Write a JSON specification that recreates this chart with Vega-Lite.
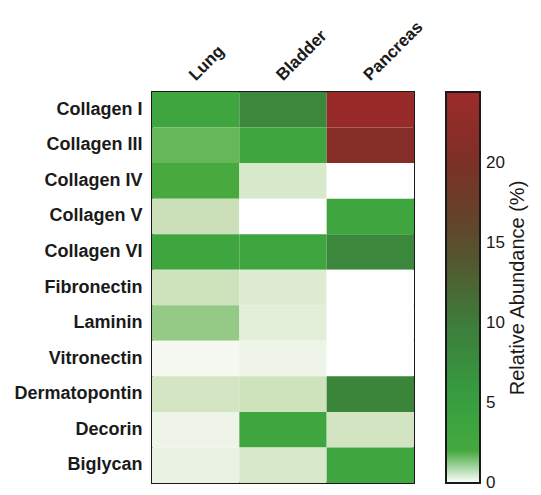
{
  "$schema": "https://vega.github.io/schema/vega-lite/v6.json",
  "autosize": {"type": "none"},
  "padding": {"left": 152, "top": 92, "right": 127, "bottom": 12},
  "width": 262,
  "height": 391,
  "background": "white",
  "config": {
    "font": "Liberation Sans",
    "view": {"stroke": "#1a1a1a", "strokeWidth": 2}
  },
  "data": {
    "values": [
      {"protein": "Collagen I", "tissue": "Lung", "value": 3.2},
      {"protein": "Collagen I", "tissue": "Bladder", "value": 8.5},
      {"protein": "Collagen I", "tissue": "Pancreas", "value": 23.6},
      {"protein": "Collagen III", "tissue": "Lung", "value": 1.25},
      {"protein": "Collagen III", "tissue": "Bladder", "value": 3.2},
      {"protein": "Collagen III", "tissue": "Pancreas", "value": 21.2},
      {"protein": "Collagen IV", "tissue": "Lung", "value": 1.5},
      {"protein": "Collagen IV", "tissue": "Bladder", "value": 0.3},
      {"protein": "Collagen IV", "tissue": "Pancreas", "value": 0},
      {"protein": "Collagen V", "tissue": "Lung", "value": 0.4},
      {"protein": "Collagen V", "tissue": "Bladder", "value": 0},
      {"protein": "Collagen V", "tissue": "Pancreas", "value": 3.2},
      {"protein": "Collagen VI", "tissue": "Lung", "value": 3.2},
      {"protein": "Collagen VI", "tissue": "Bladder", "value": 3.2},
      {"protein": "Collagen VI", "tissue": "Pancreas", "value": 8.3},
      {"protein": "Fibronectin", "tissue": "Lung", "value": 0.38},
      {"protein": "Fibronectin", "tissue": "Bladder", "value": 0.25},
      {"protein": "Fibronectin", "tissue": "Pancreas", "value": 0},
      {"protein": "Laminin", "tissue": "Lung", "value": 0.85},
      {"protein": "Laminin", "tissue": "Bladder", "value": 0.22},
      {"protein": "Laminin", "tissue": "Pancreas", "value": 0},
      {"protein": "Vitronectin", "tissue": "Lung", "value": 0.08},
      {"protein": "Vitronectin", "tissue": "Bladder", "value": 0.13},
      {"protein": "Vitronectin", "tissue": "Pancreas", "value": 0},
      {"protein": "Dermatopontin", "tissue": "Lung", "value": 0.34},
      {"protein": "Dermatopontin", "tissue": "Bladder", "value": 0.38},
      {"protein": "Dermatopontin", "tissue": "Pancreas", "value": 8.8},
      {"protein": "Decorin", "tissue": "Lung", "value": 0.13},
      {"protein": "Decorin", "tissue": "Bladder", "value": 3.2},
      {"protein": "Decorin", "tissue": "Pancreas", "value": 0.35},
      {"protein": "Biglycan", "tissue": "Lung", "value": 0.16},
      {"protein": "Biglycan", "tissue": "Bladder", "value": 0.3},
      {"protein": "Biglycan", "tissue": "Pancreas", "value": 3.2}
    ]
  },
  "mark": {"type": "rect"},
  "encoding": {
    "x": {
      "field": "tissue",
      "type": "nominal",
      "sort": ["Lung", "Bladder", "Pancreas"],
      "axis": {
        "orient": "top",
        "title": null,
        "domain": false,
        "ticks": false,
        "labelAngle": -45,
        "labelAlign": "left",
        "labelBaseline": "alphabetic",
        "labelPadding": 11,
        "labelFontSize": 17,
        "labelFontWeight": "bold",
        "labelColor": "#1a1a1a"
      }
    },
    "y": {
      "field": "protein",
      "type": "nominal",
      "sort": ["Collagen I", "Collagen III", "Collagen IV", "Collagen V", "Collagen VI", "Fibronectin", "Laminin", "Vitronectin", "Dermatopontin", "Decorin", "Biglycan"],
      "axis": {
        "title": null,
        "domain": false,
        "ticks": false,
        "labelPadding": 10,
        "labelFontSize": 18,
        "labelFontWeight": "bold",
        "labelColor": "#1a1a1a"
      }
    },
    "color": {
      "field": "value",
      "type": "quantitative",
      "scale": {
        "domain": [0, 0.4, 1.5, 5, 10, 15, 20, 24.4],
        "range": ["#ffffff", "#cbe0b8", "#48aa3e", "#36a040", "#3d7c3a", "#5a4c2c", "#7c3026", "#9e2a2a"],
        "interpolate": "rgb",
        "nice": false
      },
      "legend": {
        "title": "Relative Abundance (%)",
        "orient": "right",
        "offset": 32,
        "direction": "vertical",
        "gradientLength": 391,
        "gradientThickness": 34,
        "gradientStrokeColor": "#1a1a1a",
        "gradientStrokeWidth": 2,
        "values": [0, 5, 10, 15, 20],
        "labelFontSize": 17,
        "labelColor": "#1a1a1a",
        "labelOffset": 6,
        "titleOrient": "right",
        "titleAnchor": "middle",
        "titleLimit": 500,
        "titleFontSize": 20,
        "titleFontWeight": "normal",
        "titleColor": "#1a1a1a",
        "titlePadding": 3,
        "padding": 0,
        "encode": {
          "labels": {"update": {"baseline": {"value": "middle"}}},
          "title": {"update": {"angle": {"value": -90}, "baseline": {"value": "top"}}}
        }
      }
    }
  }
}
